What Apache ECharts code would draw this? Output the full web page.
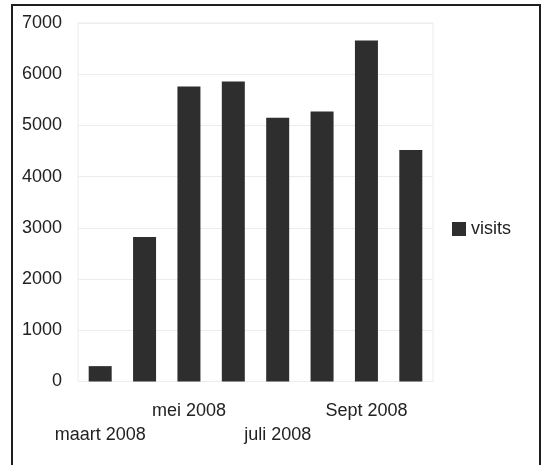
<!DOCTYPE html>
<html>
<head>
<meta charset="utf-8">
<title>visits</title>
<script src="https://cdn.jsdelivr.net/npm/echarts@6/dist/echarts.min.js"></script>
<style>
  html, body { margin: 0; padding: 0; background: #fff; }
  #chart { width: 547px; height: 465px; }
</style>
</head>
<body>
<div id="chart"></div>
<script>
// Monthly visits, 2008
const months = ['maart 2008', 'april 2008', 'mei 2008', 'juni 2008', 'juli 2008', 'aug 2008', 'Sept 2008', 'okt 2008'];
const visits = [300, 2820, 5760, 5860, 5150, 5270, 6660, 4520];
const seriesName = 'visits';

const textColor = '#222';
const lineColor = '#ececec';
const barColor = '#2e2e2e';
const fontFamily = '"Liberation Sans", Arial, sans-serif';

const chart = echarts.init(document.getElementById('chart'), null, { renderer: 'canvas' });

chart.setOption({
  animation: false,
  backgroundColor: '#fff',
  textStyle: { fontFamily: fontFamily },
  graphic: [{
    type: 'rect',
    shape: { x: 12, y: 5, width: 528, height: 480 },
    style: { fill: 'none', stroke: '#1e1e1e', lineWidth: 2 },
    silent: true
  }],
  legend: {
    data: [seriesName],
    left: 447,
    top: 215,
    icon: 'rect',
    itemWidth: 14,
    itemHeight: 14,
    itemGap: 5,
    textStyle: { color: textColor, fontSize: 18, fontFamily: fontFamily }
  },
  grid: {
    left: 78,
    right: 114,
    top: 23,
    bottom: 83.5,
    show: true,
    borderColor: lineColor,
    borderWidth: 1
  },
  xAxis: {
    type: 'category',
    data: months,
    axisLine: { show: true, lineStyle: { color: lineColor } },
    axisTick: { show: false },
    axisLabel: {
      interval: 1,
      margin: 18,
      color: textColor,
      fontSize: 18,
      lineHeight: 24,
      fontFamily: fontFamily,
      // alternate labels drop to a second row
      formatter: function (value, index) {
        return index % 4 === 0 ? '\n' + value : value;
      }
    }
  },
  yAxis: {
    type: 'value',
    min: 0,
    max: 7000,
    interval: 1000,
    axisLine: { show: false },
    axisTick: { show: false },
    axisLabel: {
      margin: 16,
      color: textColor,
      fontSize: 18,
      fontFamily: fontFamily,
      formatter: function (v) { return String(v); }
    },
    splitLine: { lineStyle: { color: lineColor } }
  },
  series: [{
    name: seriesName,
    type: 'bar',
    data: visits,
    barWidth: 23,
    itemStyle: { color: barColor }
  }]
});
</script>
</body>
</html>
